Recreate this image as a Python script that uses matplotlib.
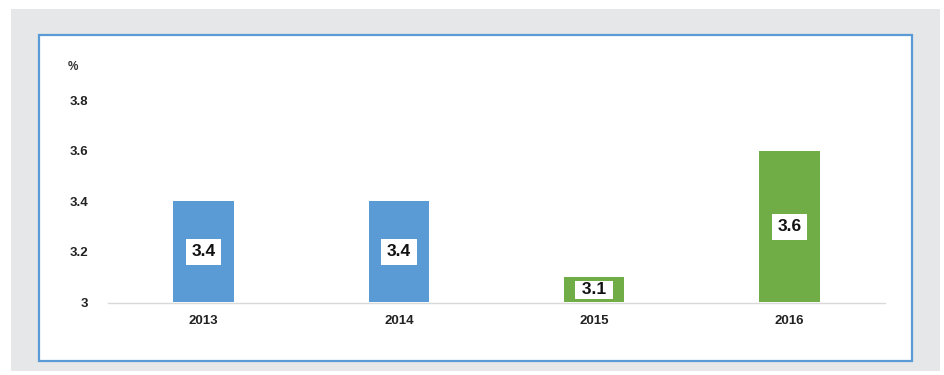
import matplotlib
matplotlib.use("Agg")
import matplotlib.pyplot as plt
from matplotlib.patches import Rectangle

years = ["2013", "2014", "2015", "2016"]
values = [3.4, 3.4, 3.1, 3.6]
colors = ["#5B9BD5", "#5B9BD5", "#70AD47", "#70AD47"]
yticks = [3.0, 3.2, 3.4, 3.6, 3.8]
ytick_labels = ["3", "3.2", "3.4", "3.6", "3.8"]

plt.rcParams["font.family"] = ["Liberation Sans", "DejaVu Sans"]

W, H = 945, 375
fig = plt.figure(figsize=(W / 100, H / 100), dpi=100)
fig.patch.set_facecolor("white")

def px_rect(x0, y0, x1, y1, **kw):
    # rectangle given in pixel coordinates measured from the top-left corner
    return Rectangle((x0 / W, 1 - y1 / H), (x1 - x0) / W, (y1 - y0) / H,
                     transform=fig.transFigure, **kw)

# grey panel with a white, blue-framed card on top
fig.patches.append(px_rect(11, 9, 940, 371, facecolor="#E6E7E8", edgecolor="none", zorder=0))
fig.patches.append(px_rect(39, 35, 912, 361, facecolor="white", edgecolor="#5B9BD5",
                           linewidth=1.6, zorder=1))

# axes area: x from 108 to 885 px, y value 3 at 302 px, 3.8 at 100 px
ax_left, ax_right = 108, 885
y_bottom_px, y_top_px = 302.5, 88
y0, y1 = 3.0, 3.0 + 0.8 * (y_bottom_px - y_top_px) / (302.5 - 100.5)
ax = fig.add_axes([ax_left / W, 1 - y_bottom_px / H, (ax_right - ax_left) / W,
                   (y_bottom_px - y_top_px) / H])
ax.set_zorder(2)
ax.patch.set_visible(False)

x = list(range(len(years)))
ax.bar(x, [v - y0 for v in values], bottom=y0, width=0.31, color=colors, zorder=2)

for xi, v in zip(x, values):
    # short bars get a flatter label box so the bar stays visible above and below it
    if v - y0 > 0.15:
        label, pad = f"{v:.1f}", 0.33
    else:
        label, pad = f" {v:.1f} ", 0.1
    ax.text(xi, (y0 + v) / 2, label, ha="center", va="center", fontsize=12.5,
            fontweight="bold", color="#111111", zorder=3,
            bbox=dict(boxstyle=f"square,pad={pad}", facecolor="white", edgecolor="none"))

ax.set_xlim(-0.49, 3.49)
ax.set_ylim(y0, y1)
ax.set_xticks(x)
ax.set_xticklabels(years, fontsize=9.5, fontweight="bold", color="#222222")
ax.set_yticks(yticks)
ax.set_yticklabels(ytick_labels, fontsize=9.5, fontweight="bold", color="#222222")
ax.tick_params(axis="both", length=0)
ax.tick_params(axis="x", pad=9)
ax.tick_params(axis="y", pad=14)
for side in ["top", "right", "left"]:
    ax.spines[side].set_visible(False)
ax.spines["bottom"].set_color("#D9D9D9")
ax.spines["bottom"].set_linewidth(1.0)

fig.text(73 / W, 1 - 67 / H, "%", ha="center", va="center", fontsize=8.5,
         fontweight="bold", color="#333333")

fig.savefig("out.png", dpi=100, facecolor=fig.get_facecolor())
